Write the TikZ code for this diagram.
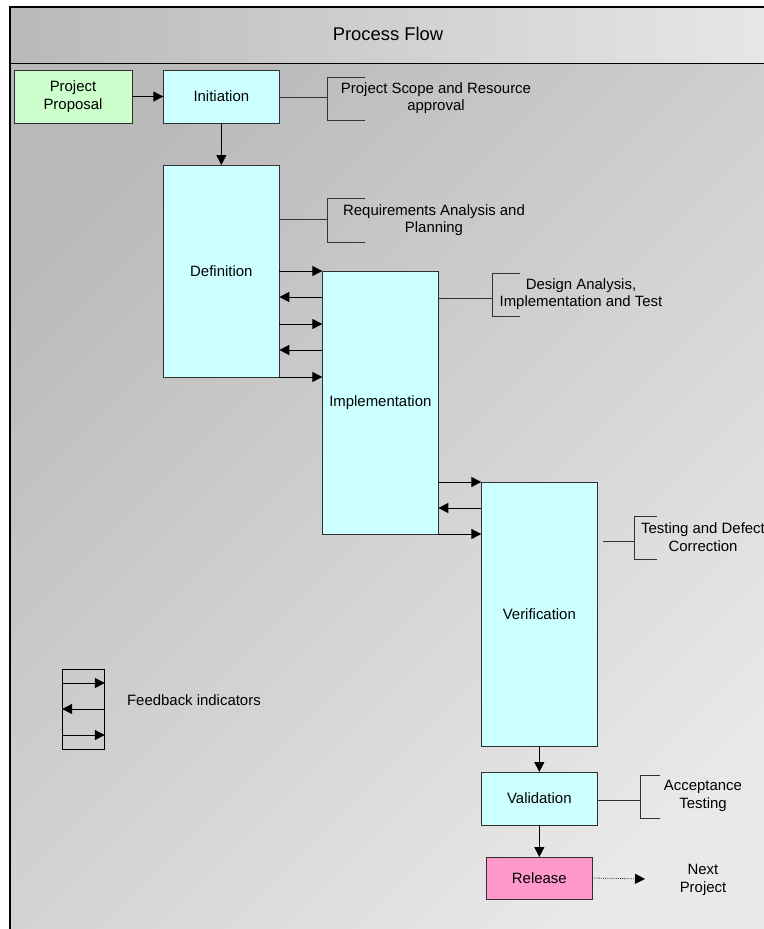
\documentclass[tikz,border=0pt]{standalone}
\usepackage{fontspec}
\setmainfont{Liberation Sans}
\usetikzlibrary{arrows.meta, positioning, calc}

\definecolor{stagecyan}{HTML}{CCFFFF}
\definecolor{proposalgreen}{HTML}{CCFFCC}
\definecolor{releasepink}{HTML}{FF99CC}
\definecolor{bgdark}{HTML}{B9B9B9}
\definecolor{bglight}{HTML}{E9E9E9}
\definecolor{edgegray}{HTML}{303030}

\begin{document}
\begin{tikzpicture}[
            x = 0.75pt, y = -0.75pt, % one unit is one pixel, y runs down
            > = {Triangle[length=7.5pt, width=7.5pt]}, % arrow head style
            font = \fontsize{11.2}{13}\selectfont,
            line width = 0.75pt % line style
        ]
        \useasboundingbox (0,0) rectangle (764,929);

        \tikzstyle{stage}=[
            draw = edgegray,
            fill = stagecyan,
            minimum width = 87pt,
            inner sep = 0pt,
            outer sep = 0pt,
            align = center
        ]
        \tikzstyle{note}=[align = center]
        \tikzstyle{bracket}=[draw = black!80]

        % background and frame
        \shade[top color = bgdark, bottom color = bglight, shading angle = 45] (10,7) rectangle (800,960);
        \shade[left color = bgdark, right color = bglight] (10,7) rectangle (800,63);
        \draw[line width = 1pt] (10,935) -- (10,7) -- (800,7);
        \draw (10,63) -- (800,63);

        \node (title) at (388,34) {\fontsize{13.8}{16}\selectfont Process Flow};

        \node[stage, fill = proposalgreen, minimum width = 88.5pt, minimum height = 39.75pt] (proposal) at (73,96.5) {Project\\Proposal};
        \node[stage, minimum height = 39.75pt, right = 23.5pt of proposal] (init) {Initiation};
        \node[stage, minimum height = 159pt, below = 31.5pt of init] (def) {Definition};
        \node[stage, minimum height = 197.25pt, anchor = north west] (impl) at ($(def.east)+(43,0)$) {Implementation};
        \node[stage, minimum height = 198pt, anchor = north west] (verif) at ($(impl.south east)+(43,-52)$) {Verification};
        \node[stage, minimum height = 39.75pt, below = 19.5pt of verif] (valid) {Validation};
        \node[stage, fill = releasepink, minimum width = 79.5pt, minimum height = 31.5pt, below = 24pt of valid] (release) {Release};

        \path[->] (proposal) edge (init);
        \path[->] (init) edge (def);
        \path[->] (verif) edge (valid);
        \path[->] (valid) edge (release);

        % feedback between phases
        \draw[->] (def.east) -- (def.east -| impl.west);
        \draw[<-] ($(def.east)+(0,26)$) -- ($(def.east -| impl.west)+(0,26)$);
        \draw[->] ($(def.east)+(0,53)$) -- ($(def.east -| impl.west)+(0,53)$);
        \draw[<-] ($(def.east)+(0,79)$) -- ($(def.east -| impl.west)+(0,79)$);
        \draw[->] (def.south east) -- (def.south east -| impl.west);

        \draw[->] (verif.north west -| impl.east) -- (verif.north west);
        \draw[<-] ($(verif.north west -| impl.east)+(0,26)$) -- ($(verif.north west)+(0,26)$);
        \draw[->] (impl.south east) -- (impl.south east -| verif.west);

        % notes with brackets
        \node[note] (scopeNote) at (436,98) {Project Scope and Resource\\approval};
        \node[note] (reqNote) at (434,220) {Requirements Analysis and\\Planning};
        \node[note] (designNote) at (581,294) {Design Analysis,\\Implementation and Test};
        \node[note] (testNote) at (703,537) {Testing and Defect\\Correction};
        \node[note] (acceptNote) at (703,796) {Acceptance\\Testing};
        \node[note] (nextNote) at (703,880) {Next\\Project};

        \coordinate (scopeBr) at (327,97);
        \coordinate (reqBr) at (327,219);
        \coordinate (designBr) at (492,298);
        \coordinate (testBr) at (634,541);
        \coordinate (acceptBr) at (640,800);
        \coordinate (nextTip) at (645,879);

        \draw[bracket] (scopeBr -| init.east) -- (scopeBr);
        \draw[bracket] (scopeBr) ++(38,-20) -- ++(-38,0) -- ++(0,43) -- ++(38,0);
        \draw[bracket] (reqBr -| def.east) -- (reqBr);
        \draw[bracket] (reqBr) ++(38,-21) -- ++(-38,0) -- ++(0,44) -- ++(38,0);
        \draw[bracket] (designBr -| impl.east) -- (designBr);
        \draw[bracket] (designBr) ++(28,-25) -- ++(-28,0) -- ++(0,43) -- ++(28,0);
        \draw[bracket] ($(testBr -| verif.east)+(6,0)$) -- (testBr);
        \draw[bracket] (testBr) ++(23,-25) -- ++(-23,0) -- ++(0,43) -- ++(23,0);
        \draw[bracket] (acceptBr -| valid.east) -- (acceptBr);
        \draw[bracket] (acceptBr) ++(20,-25) -- ++(-20,0) -- ++(0,43) -- ++(20,0);

        \draw[->, densely dotted, line width = 0.6pt] (release.east) -- (nextTip);

        % legend
        \node[draw, minimum width = 32pt, minimum height = 60pt, inner sep = 0pt, outer sep = 0pt] (legend) at (83.5,709) {};
        \draw[->] ($(legend.west)+(0,-26)$) -- ($(legend.east)+(0,-26)$);
        \draw[<-] (legend.west) -- (legend.east);
        \draw[->] ($(legend.west)+(0,26)$) -- ($(legend.east)+(0,26)$);
        \node[right = 13pt of legend, yshift = 6.75pt] (legendNote) {Feedback indicators};

    \end{tikzpicture}
\end{document}
